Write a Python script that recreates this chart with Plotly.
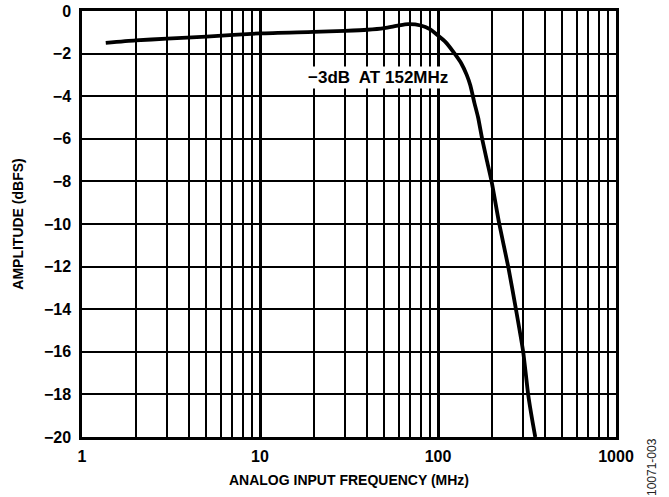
import plotly.graph_objects as go

# frequency response
freq_mhz = [1.36, 2, 3, 5, 10, 20, 30, 40, 50, 60, 68, 80, 90, 100, 110, 124, 135, 145,
            152, 160, 168, 177, 188, 200, 221, 248, 274, 301, 321, 340, 352]
amp_dbfs = [-1.5, -1.38, -1.3, -1.2, -1.05, -0.98, -0.93, -0.88, -0.8, -0.68, -0.62, -0.68,
            -0.85, -1.15, -1.45, -2.0, -2.45, -3.0, -3.5, -4.3, -5.0, -6.0, -7.0, -8.0,
            -10.0, -12.0, -14.0, -16.0, -18.0, -19.3, -20.0]

decades = [1, 10, 100, 1000]
minor_x = [m * d for d in [1, 10, 100] for m in range(2, 10)]
y_ticks = list(range(-20, 1, 2))

FONT = "Arial, Liberation Sans, sans-serif"

fig = go.Figure()
fig.add_trace(go.Scatter(
    x=freq_mhz, y=amp_dbfs, mode="lines",
    line=dict(color="black", width=3.8, shape="spline", smoothing=0.6),
    showlegend=False,
))

# label sits left of the knee (x given in log10 units on a log axis)
fig.add_annotation(
    x=1.663, y=-3.1, xref="x", yref="y",
    text="<b>−3dB  AT 152MHz</b>", showarrow=False,
    font=dict(family=FONT, size=17, color="black"),
    bgcolor="white", borderpad=1,
)

# figure id, rotated, right of the plot
fig.add_annotation(
    x=(652 - 82) / 534, y=(437 - 467) / 426, xref="paper", yref="paper",
    xanchor="center", yanchor="middle",
    text="10071-003", textangle=-90, showarrow=False,
    font=dict(family=FONT, size=12, color="#222222"),
)

fig.update_layout(
    width=669, height=497,
    margin=dict(l=82, r=53, t=11, b=60),
    plot_bgcolor="white", paper_bgcolor="white",
    font=dict(family=FONT, size=16, color="black"),
    xaxis=dict(
        type="log", range=[0, 3], automargin=False,
        tickvals=decades, ticktext=["<b>%d</b>" % d for d in decades],
        showgrid=True, gridcolor="black", gridwidth=2.5,
        minor=dict(tickvals=minor_x, showgrid=True, gridcolor="black", gridwidth=1.6, ticks=""),
        showline=True, linecolor="black", linewidth=2.5, mirror=True,
        ticklabelstandoff=3, ticklabeloverflow="allow", zeroline=False,
        title=dict(text="<b>ANALOG INPUT FREQUENCY (MHz)</b>", standoff=12,
                   font=dict(family=FONT, size=14)),
    ),
    yaxis=dict(
        range=[-20, 0], automargin=False,
        tickvals=y_ticks, ticktext=["<b>%s</b>" % (str(v).replace("-", "−")) for v in y_ticks],
        showgrid=True, gridcolor="black", gridwidth=1.6,
        showline=True, linecolor="black", linewidth=2.5, mirror=True,
        ticklabelstandoff=5, ticklabeloverflow="allow", zeroline=False,
        title=dict(text="<b>AMPLITUDE (dBFS)</b>", standoff=18,
                   font=dict(family=FONT, size=14)),
    ),
)

# drop the browser's default 8px body margin so the figure sits at the page corner
fig.write_html("out.html", config={"displayModeBar": False},
               post_script="document.body.style.margin='0';")
